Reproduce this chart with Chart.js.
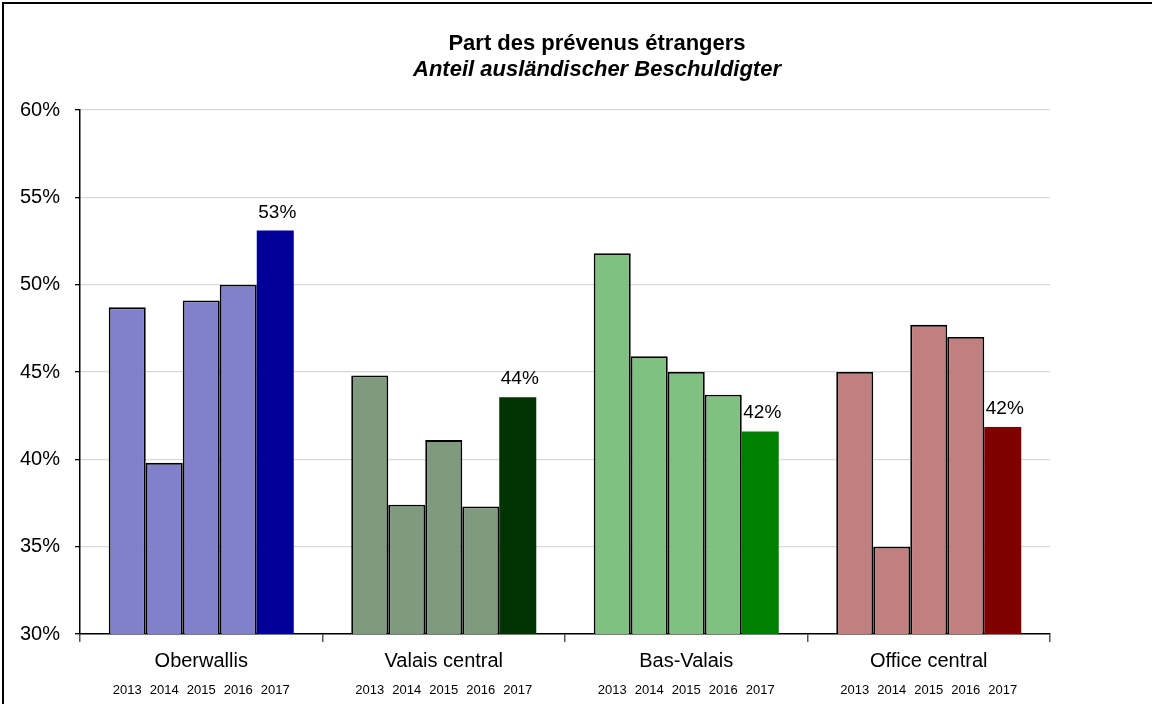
<!DOCTYPE html>
<html>
<head>
<meta charset="utf-8">
<script src="https://cdn.jsdelivr.net/npm/chart.js@4"></script>
<style>
  html, body { margin: 0; padding: 0; background: #fff; overflow: hidden; }
  #frame { position: absolute; left: 2px; top: 2px; width: 1400px; height: 900px; border: 2px solid #000; }
  #wrap { position: absolute; left: 0; top: 0; width: 1186px; height: 700px; }
</style>
</head>
<body>
<div id="frame">
  <div id="wrap"><canvas id="chart"></canvas></div>
</div>
<script>
// --- Data ---
const regions = ['Oberwallis', 'Valais central', 'Bas-Valais', 'Office central'];
const years = ['2013', '2014', '2015', '2016', '2017'];

// share of foreign suspects in %, 2013..2017
const oberwallis = [48.7, 39.8, 49.1, 50.0, 53.1];
const valaisCentral = [44.8, 37.4, 41.1, 37.3, 43.55];
const basValais = [51.8, 45.9, 45.0, 43.7, 41.6];
const officeCentral = [45.0, 35.0, 47.7, 47.0, 41.85];

const regionValues = [oberwallis, valaisCentral, basValais, officeCentral];

const titleText = 'Part des prévenus étrangers';
const subtitleText = 'Anteil ausländischer Beschuldigter';

// Colors: lighter for past years, dark for the latest year
const lightColors = ['#8080cc', '#809a80', '#80c080', '#c08080'];
const darkColors = ['#000099', '#003300', '#008000', '#800000'];

const FONT = '"Liberation Sans", Arial, sans-serif';

const datasets = years.map((y, i) => {
  const last = i === years.length - 1;
  return {
    label: y,
    data: regionValues.map(r => r[i]),
    backgroundColor: last ? darkColors : lightColors,
    borderColor: last ? darkColors : '#000',
    borderWidth: last ? 0 : 1.8,
    borderSkipped: 'bottom',
    categoryPercentage: 0.763,
    barPercentage: 1.0
  };
});

// Title (centred on the whole frame), value labels, years row
const labelsPlugin = {
  id: 'labelsPlugin',
  afterDraw(chart) {
    const ctx = chart.ctx;
    ctx.save();
    ctx.fillStyle = '#000';
    ctx.textAlign = 'center';
    ctx.textBaseline = 'middle';

    // two-line title
    const cx = chart.width / 2;
    ctx.font = 'bold 22px ' + FONT;
    ctx.fillText(titleText, cx, 40);
    ctx.font = 'italic bold 22px ' + FONT;
    ctx.fillText(subtitleText, cx, 66);

    // value labels on 2017
    const lastIdx = years.length - 1;
    const lastMeta = chart.getDatasetMeta(lastIdx);
    ctx.font = '19px ' + FONT;
    ctx.textBaseline = 'alphabetic';
    lastMeta.data.forEach((bar, j) => {
      const v = chart.data.datasets[lastIdx].data[j];
      ctx.fillText(Math.round(v) + '%', bar.x + 2, bar.y - 13);
    });

    // year labels under each bar
    ctx.font = '13px ' + FONT;
    ctx.textBaseline = 'middle';
    years.forEach((y, i) => {
      chart.getDatasetMeta(i).data.forEach(bar => {
        ctx.fillText(y, bar.x, chart.chartArea.bottom + 56);
      });
    });
    ctx.restore();
  }
};

const ctx = document.getElementById('chart').getContext('2d');
new Chart(ctx, {
  type: 'bar',
  data: { labels: regions, datasets: datasets },
  options: {
    responsive: true,
    maintainAspectRatio: false,
    animation: false,
    layout: { padding: { left: 0, right: 140, top: 106, bottom: 0 } },
    plugins: {
      legend: { display: false },
      tooltip: { enabled: false },
      title: { display: false }
    },
    scales: {
      x: {
        afterFit(scale) { scale.height = 70; },
        grid: {
          offset: true,
          drawOnChartArea: false,
          drawTicks: true,
          tickLength: 8,
          tickColor: '#555',
          lineWidth: 1.5
        },
        border: { color: '#000', width: 1.5 },
        ticks: {
          color: '#000',
          padding: 7,
          font: { family: FONT, size: 20 }
        }
      },
      y: {
        min: 30,
        max: 60,
        afterFit(scale) { scale.width = 76; },
        ticks: {
          stepSize: 5,
          color: '#000',
          padding: 15,
          font: { family: FONT, size: 20 },
          callback: v => v + '%'
        },
        grid: {
          color: '#d9d9d9',
          lineWidth: 1.3,
          tickColor: '#000',
          tickLength: 5
        },
        border: { color: '#000', width: 1.5 }
      }
    }
  },
  plugins: [labelsPlugin]
});
</script>
</body>
</html>
